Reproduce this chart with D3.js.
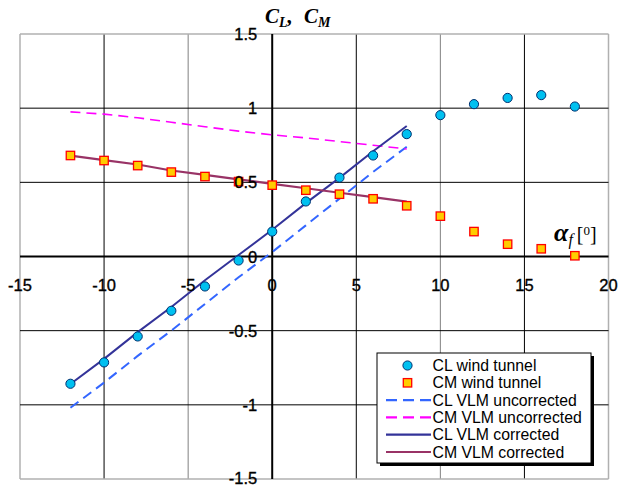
<!DOCTYPE html>
<html><head><meta charset="utf-8">
<script src="https://cdn.jsdelivr.net/npm/d3@7"></script>
<style>body{margin:0;background:#fff}svg{display:block}</style>
</head><body>
<script>
// ---- data ----
const alphaTunnel = [-12,-10,-8,-6,-4,-2,0,2,4,6,8,10,12,14,16,18];
const clTunnel = [-0.858,-0.714,-0.539,-0.366,-0.202,-0.027,0.168,0.371,0.532,0.681,0.825,0.953,1.027,1.069,1.088,1.011];
const cmTunnel = [0.681,0.647,0.613,0.569,0.539,0.505,0.481,0.447,0.420,0.389,0.342,0.272,0.168,0.083,0.052,0.005];
const alphaVlm = [-12,-10,-8,-6,-4,-2,0,2,4,6,8];
const clVlmUncorr = [-1.02,-0.85,-0.67,-0.50,-0.32,-0.14,0.03,0.21,0.39,0.57,0.74];
const cmVlmUncorr = [0.975,0.96,0.935,0.905,0.875,0.845,0.82,0.80,0.775,0.75,0.725];
const clVlmCorr = [-0.86,-0.69,-0.51,-0.34,-0.16,0.01,0.18,0.36,0.53,0.71,0.88];
const cmVlmCorr = [0.68,0.65,0.62,0.58,0.55,0.52,0.49,0.46,0.43,0.40,0.37];
const xTicks = [-15,-10,-5,0,5,10,15,20];
const yTicks = [-1.5,-1,-0.5,0,0.5,1,1.5];
const legendLabels = ["CL wind tunnel","CM wind tunnel","CL VLM uncorrected","CM VLM uncorrected","CL VLM corrected","CM VLM corrected"];

const W = 619, H = 486;
const svg = d3.select("body").append("svg").attr("width", W).attr("height", H);
const x = d3.scaleLinear().domain([-15,20]).range([20,608.5]);
const y = d3.scaleLinear().domain([-1.5,1.5]).range([479,34]);

const grayX = new Set([-5,10]);
// grid
const g = svg.append("g");
xTicks.forEach(t => {
  if (t === 0) return;
  const edge = (t === -15 || t === 20);
  g.append("line").attr("x1", x(t)).attr("x2", x(t)).attr("y1", y(1.5)).attr("y2", y(-1.5))
    .attr("stroke", edge ? "#b0b0b0" : (grayX.has(t) ? "#808080" : "#000")).attr("stroke-width", edge ? 1.5 : 1);
});
yTicks.forEach(t => {
  if (t === 0) return;
  const edge = (t === 1.5 || t === -1.5);
  g.append("line").attr("x1", x(-15)).attr("x2", x(20)).attr("y1", y(t)).attr("y2", y(t))
    .attr("stroke", edge ? "#b0b0b0" : "#000").attr("stroke-width", edge ? 1.5 : 1);
});
// axes
g.append("line").attr("x1", x(-15)).attr("x2", x(20)).attr("y1", y(0)).attr("y2", y(0)).attr("stroke","#000").attr("stroke-width",2);
g.append("line").attr("x1", x(0)).attr("x2", x(0)).attr("y1", y(1.5)).attr("y2", y(-1.5)).attr("stroke","#000").attr("stroke-width",2);

// lines
const line = d3.line().x(d => x(d[0])).y(d => y(d[1]));
function drawLine(ys, color, dash, w) {
  svg.append("path").datum(alphaVlm.map((a,i) => [a, ys[i]]))
    .attr("d", line).attr("fill","none").attr("stroke", color).attr("stroke-width", w)
    .attr("stroke-dasharray", dash);
}
drawLine(clVlmUncorr, "#3366ff", "10,6", 2);
drawLine(cmVlmUncorr, "#ff00ff", "10,6", 1.6);
drawLine(clVlmCorr, "#333399", null, 2);
drawLine(cmVlmCorr, "#993366", null, 2.2);

// markers
svg.append("g").selectAll("rect").data(alphaTunnel.map((a,i)=>[a,cmTunnel[i]])).join("rect")
  .attr("x", d => x(d[0]) - 4.2).attr("y", d => y(d[1]) - 4.2).attr("width", 8.4).attr("height", 8.4)
  .attr("fill","#ffcc00").attr("stroke","#ff0000").attr("stroke-width",1.3);
svg.append("g").selectAll("circle").data(alphaTunnel.map((a,i)=>[a,clTunnel[i]])).join("circle")
  .attr("cx", d => x(d[0])).attr("cy", d => y(d[1])).attr("r", 4.6)
  .attr("fill","#00c0f0").attr("stroke","#003070").attr("stroke-width",1);

// tick labels
const fmt = d => String(d);
const lblFont = "Liberation Sans, Arial, sans-serif";
svg.append("g").selectAll("text").data(xTicks).join("text")
  .attr("x", d => x(d)).attr("y", y(0) + 34).attr("text-anchor","middle")
  .attr("font-family",lblFont).attr("font-size",16.5).attr("fill","#000")
  .attr("stroke","#000").attr("stroke-width",0.35)
  .text(fmt);
svg.append("g").selectAll("text").data(yTicks).join("text")
  .attr("x", x(0) - 15).attr("y", d => Math.min(y(d) + 6, 484)).attr("text-anchor","end")
  .attr("font-family",lblFont).attr("font-size",16.5).attr("fill","#000")
  .attr("stroke","#000").attr("stroke-width",0.35)
  .text(fmt);

// titles
const serif = "Liberation Serif, Times New Roman, serif";
const t1 = svg.append("text").attr("x", 265).attr("y", 23)
  .attr("font-family",serif).attr("font-style","italic").attr("font-weight","bold").attr("font-size",21);
t1.append("tspan").text("C");
t1.append("tspan").attr("font-size",14).attr("dy",4).text("L");
t1.append("tspan").attr("dy",-4).text(",");
const t1b = svg.append("text").attr("x", 304).attr("y", 23)
  .attr("font-family",serif).attr("font-style","italic").attr("font-weight","bold").attr("font-size",21);
t1b.append("tspan").text("C");
t1b.append("tspan").attr("font-size",14).attr("dy",4).text("M");

const t2 = svg.append("text").attr("x", 554).attr("y", 241)
  .attr("font-family",serif).attr("font-size",20);
t2.append("tspan").attr("font-style","italic").attr("font-weight","bold").attr("font-size",26).text("α");
t2.append("tspan").attr("font-style","italic").attr("font-size",16).attr("dy",4).text("f");
t2.append("tspan").attr("dy",-4).attr("dx",4).text("[");
t2.append("tspan").attr("font-size",13).attr("dy",-6).text("0");
t2.append("tspan").attr("dy",6).text("]");

// legend
const lg = svg.append("g");
const lx = 377, ly = 353, lw = 214, lh = 110;
lg.append("rect").attr("x", lx+3).attr("y", ly+3).attr("width", lw).attr("height", lh).attr("fill","#000");
lg.append("rect").attr("x", lx).attr("y", ly).attr("width", lw).attr("height", lh).attr("fill","#fff").attr("stroke","#000").attr("stroke-width",1);
const rowY = i => ly + 12.5 + i * 17.3;
legendLabels.forEach((lab, i) => {
  const yy = rowY(i);
  if (i === 0) lg.append("circle").attr("cx", 407.5).attr("cy", yy).attr("r", 4.6).attr("fill","#00c0f0").attr("stroke","#003070");
  else if (i === 1) lg.append("rect").attr("x", 403.3).attr("y", yy-4.2).attr("width",8.4).attr("height",8.4).attr("fill","#ffcc00").attr("stroke","#ff0000").attr("stroke-width",1.3);
  else {
    const cols = ["#3366ff","#ff00ff","#333399","#993366"];
    const c = cols[i-2];
    lg.append("line").attr("x1", 386).attr("x2", 431).attr("y1", yy).attr("y2", yy)
      .attr("stroke", c).attr("stroke-width", 2.2).attr("stroke-dasharray", i < 4 ? "11,6" : null);
  }
  lg.append("text").attr("x", 432.5).attr("y", yy + 5.5)
    .attr("font-family",lblFont).attr("font-size",15.8).attr("fill","#000").text(lab);
});
</script>
</body></html>
